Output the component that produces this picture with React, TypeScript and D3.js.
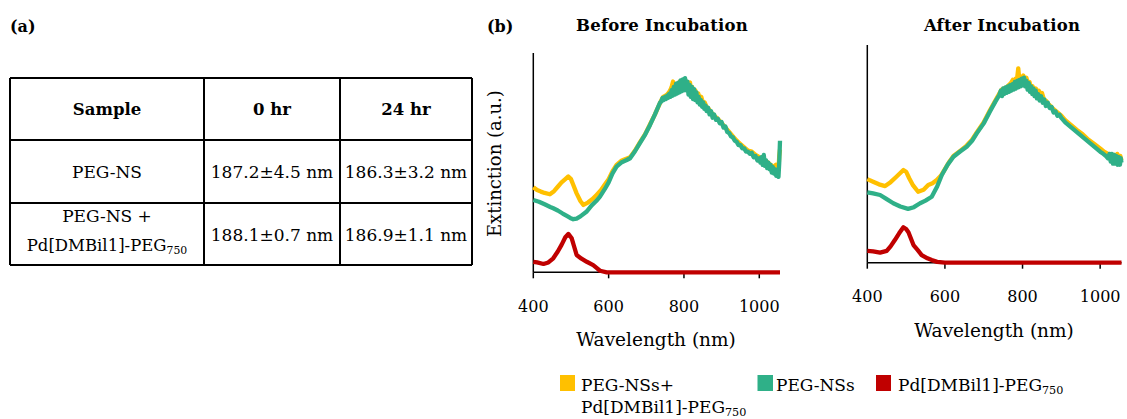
import React from 'react';
import * as d3 from 'd3';

// wavelength (nm), extinction (a.u., 1 = top of the y axis)
const beforeMix = [
  [400, 0.388], [410, 0.375], [420, 0.368], [430, 0.362], [444, 0.356], [455, 0.37], [465, 0.39], [475, 0.41],
  [485, 0.425], [493, 0.437], [500, 0.425], [506, 0.399], [515, 0.36], [525, 0.325], [533, 0.307], [545, 0.318],
  [558, 0.335], [568, 0.353], [580, 0.375], [590, 0.4], [600, 0.425], [610, 0.46], [621, 0.49], [635, 0.51],
  [657, 0.525], [670, 0.555], [683, 0.592], [697, 0.63], [710, 0.675], [723, 0.72], [736, 0.77], [740, 0.785],
  [745, 0.8], [750, 0.805], [755, 0.81], [760, 0.82], [765, 0.835], [768, 0.85], [771, 0.87], [774, 0.83],
  [777, 0.855], [780, 0.83], [783, 0.86], [786, 0.835], [789, 0.87], [792, 0.84], [795, 0.875], [798, 0.85],
  [801, 0.88], [804, 0.85], [807, 0.87], [810, 0.845], [813, 0.86], [816, 0.865], [819, 0.83], [822, 0.845],
  [826, 0.81], [830, 0.83], [834, 0.8], [838, 0.815], [842, 0.785], [846, 0.8], [850, 0.775], [855, 0.775],
  [860, 0.755], [866, 0.745], [872, 0.73], [880, 0.715], [890, 0.7], [900, 0.68], [910, 0.66], [920, 0.64],
  [930, 0.62], [940, 0.6], [950, 0.585], [960, 0.57], [970, 0.555], [980, 0.55], [990, 0.535], [1000, 0.525],
  [1010, 0.515], [1020, 0.505], [1030, 0.49], [1038, 0.48], [1044, 0.49], [1048, 0.465], [1051, 0.47],
  [1053, 0.53], [1055, 0.56]
];
const beforeNS = [
  [400, 0.33], [415, 0.322], [430, 0.31], [445, 0.298], [453, 0.292], [465, 0.282], [478, 0.268], [489, 0.257],
  [498, 0.248], [506, 0.242], [515, 0.245], [525, 0.255], [541, 0.276], [555, 0.305], [567, 0.325], [577, 0.345],
  [590, 0.38], [600, 0.41], [610, 0.45], [621, 0.482], [635, 0.502], [648, 0.512], [657, 0.52], [670, 0.552],
  [683, 0.589], [697, 0.628], [710, 0.672], [723, 0.72], [736, 0.772], [740, 0.78], [743, 0.795], [746, 0.785],
  [749, 0.8], [752, 0.79], [755, 0.805], [758, 0.795], [761, 0.815], [764, 0.8], [767, 0.83], [770, 0.805],
  [773, 0.845], [776, 0.81], [779, 0.86], [782, 0.815], [785, 0.865], [788, 0.82], [791, 0.875], [794, 0.825],
  [797, 0.88], [800, 0.83], [803, 0.885], [806, 0.83], [809, 0.87], [812, 0.81], [815, 0.855], [818, 0.8],
  [821, 0.845], [824, 0.79], [827, 0.835], [830, 0.785], [833, 0.82], [836, 0.775], [839, 0.8], [842, 0.765],
  [845, 0.785], [848, 0.755], [851, 0.775], [854, 0.745], [857, 0.76], [860, 0.735], [864, 0.75], [868, 0.72],
  [872, 0.735], [876, 0.705], [880, 0.72], [885, 0.695], [890, 0.7], [895, 0.68], [900, 0.685], [905, 0.66],
  [910, 0.665], [915, 0.64], [920, 0.635], [925, 0.62], [930, 0.615], [935, 0.6], [940, 0.595], [945, 0.58],
  [950, 0.58], [955, 0.565], [960, 0.565], [965, 0.55], [970, 0.55], [975, 0.54], [980, 0.545], [985, 0.525],
  [990, 0.53], [995, 0.51], [1000, 0.52], [1003, 0.5], [1006, 0.525], [1009, 0.49], [1012, 0.535], [1015, 0.485],
  [1018, 0.51], [1021, 0.475], [1024, 0.5], [1027, 0.47], [1030, 0.49], [1033, 0.455], [1036, 0.48], [1039, 0.45],
  [1042, 0.47], [1045, 0.44], [1048, 0.455], [1051, 0.435], [1053, 0.5], [1055, 0.6]
];
const beforePd = [
  [400, 0.048], [410, 0.045], [427, 0.038], [440, 0.045], [453, 0.064], [465, 0.095], [475, 0.125], [485, 0.16],
  [493, 0.175], [502, 0.155], [508, 0.12], [515, 0.079], [528, 0.062], [542, 0.048], [559, 0.033], [568, 0.02],
  [577, 0.007], [595, 0], [1055, 0]
];

const afterMix = [
  [400, 0.384], [415, 0.372], [430, 0.36], [446, 0.352], [460, 0.37], [475, 0.395], [485, 0.412], [493, 0.426],
  [500, 0.418], [508, 0.388], [518, 0.355], [531, 0.326], [545, 0.335], [557, 0.357], [568, 0.365], [579, 0.38],
  [590, 0.4], [600, 0.43], [610, 0.46], [622, 0.49], [640, 0.515], [656, 0.538], [670, 0.565], [682, 0.598],
  [700, 0.645], [716, 0.7], [730, 0.745], [746, 0.795], [752, 0.8], [758, 0.805], [764, 0.815], [770, 0.825],
  [775, 0.84], [779, 0.82], [782, 0.845], [785, 0.83], [789, 0.893], [792, 0.835], [795, 0.855], [798, 0.83],
  [802, 0.86], [806, 0.83], [810, 0.85], [814, 0.82], [818, 0.83], [822, 0.8], [826, 0.81], [830, 0.79],
  [834, 0.8], [838, 0.785], [842, 0.79], [846, 0.765], [850, 0.78], [855, 0.75], [860, 0.745], [866, 0.73],
  [872, 0.72], [880, 0.705], [890, 0.69], [900, 0.675], [910, 0.655], [920, 0.64], [930, 0.625], [940, 0.61],
  [955, 0.59], [970, 0.565], [985, 0.545], [1000, 0.525], [1010, 0.51], [1020, 0.5], [1030, 0.49], [1036, 0.495],
  [1040, 0.47], [1044, 0.5], [1048, 0.475], [1052, 0.49], [1055, 0.47]
];
const afterNS = [
  [400, 0.323], [415, 0.318], [433, 0.311], [450, 0.292], [467, 0.273], [485, 0.258], [505, 0.247], [520, 0.255],
  [536, 0.273], [550, 0.285], [566, 0.303], [580, 0.35], [592, 0.403], [607, 0.45], [622, 0.487], [640, 0.512],
  [656, 0.533], [670, 0.56], [682, 0.594], [700, 0.64], [716, 0.694], [730, 0.74], [740, 0.77], [744, 0.79],
  [747, 0.765], [750, 0.8], [753, 0.775], [756, 0.805], [759, 0.78], [762, 0.81], [765, 0.785], [768, 0.815],
  [771, 0.79], [774, 0.82], [777, 0.795], [780, 0.83], [783, 0.8], [786, 0.835], [789, 0.805], [792, 0.84],
  [795, 0.81], [798, 0.845], [801, 0.815], [804, 0.85], [807, 0.81], [810, 0.835], [813, 0.795], [816, 0.825],
  [819, 0.785], [822, 0.81], [825, 0.775], [828, 0.8], [831, 0.765], [834, 0.79], [837, 0.755], [840, 0.775],
  [844, 0.745], [848, 0.765], [852, 0.735], [856, 0.75], [860, 0.72], [865, 0.735], [870, 0.71], [875, 0.715],
  [880, 0.69], [885, 0.695], [890, 0.675], [895, 0.68], [900, 0.665], [910, 0.645], [920, 0.63], [930, 0.615],
  [940, 0.6], [950, 0.585], [960, 0.57], [970, 0.555], [980, 0.54], [990, 0.525], [1000, 0.51], [1008, 0.5],
  [1015, 0.49], [1020, 0.48], [1024, 0.5], [1027, 0.465], [1030, 0.5], [1033, 0.455], [1036, 0.495], [1039, 0.455],
  [1042, 0.49], [1045, 0.45], [1048, 0.485], [1051, 0.45], [1053, 0.48], [1055, 0.46]
];
const afterPd = [
  [400, 0.054], [415, 0.052], [433, 0.046], [450, 0.054], [460, 0.075], [471, 0.104], [482, 0.135], [493, 0.163],
  [500, 0.155], [506, 0.14], [519, 0.081], [530, 0.058], [540, 0.035], [555, 0.02], [566, 0.012], [580, 0.004],
  [600, 0], [1055, 0]
];

const xTicks = [400, 600, 800, 1000];
const tableHeader = ['Sample', '0 hr', '24 hr'];
const tableRow1 = ['PEG-NS', '187.2±4.5 nm', '186.3±3.2 nm'];
const tableRow2 = ['PEG-NS +', '188.1±0.7 nm', '186.9±1.1 nm'];

const COLORS = { mix: '#FFC000', ns: '#2FB088', pd: '#C00000' };
const FONT = '"DejaVu Serif", serif';

const Sub750 = ({ size }) => (
  <>
    Pd[DMBil1]-PEG
    <tspan fontSize={size * 0.66} dy={3}>750</tspan>
  </>
);

const Panel = ({ title, titleX, x0, x1, yTop, yBase, series, tickY, labelY, labelX, yLabel }) => {
  const x = d3.scaleLinear().domain([400, 1055]).range([x0, x1]);
  const y = d3.scaleLinear().domain([0, 1]).range([yBase, yTop]);
  const line = d3.line().x(d => x(d[0])).y(d => y(d[1]));
  return (
    <g>
      <text x={titleX} y={31} textAnchor="middle" fontWeight="bold" fontSize={16.5} fontFamily={FONT}
        letterSpacing={0.2}>{title}</text>
      <line x1={x0} x2={x0} y1={yTop} y2={yBase} stroke="#000" strokeWidth={1.5} />
      <line x1={x0} x2={x1} y1={yBase} y2={yBase} stroke="#000" strokeWidth={1.5} />
      {xTicks.map(t => (
        <g key={t}>
          <line x1={x(t)} x2={x(t)} y1={yBase} y2={yBase + 6} stroke="#000" strokeWidth={1.5} />
          <text x={x(t)} y={tickY} textAnchor="middle" fontSize={16} fontFamily={FONT}>{t}</text>
        </g>
      ))}
      {series.map(s => (
        <path key={s.key} d={line(s.data)} fill="none" stroke={s.color} strokeWidth={4.3}
          strokeLinejoin="round" strokeLinecap="butt" />
      ))}
      <text x={labelX} y={labelY} textAnchor="middle" fontSize={18.5} fontFamily={FONT}>Wavelength (nm)</text>
      {yLabel && (
        <text transform={`translate(501,${(yTop + yBase) / 2 + 1}) rotate(-90)`} textAnchor="middle"
          fontSize={18} fontFamily={FONT}>Extinction  (a.u.)</text>
      )}
    </g>
  );
};

const Table = () => {
  const cols = [10, 204, 340, 472];
  const rows = [78, 140, 203, 265];
  const cx = i => (cols[i] + cols[i + 1]) / 2;
  return (
    <g fontFamily={FONT} fontSize={17}>
      <text x={10} y={32} fontWeight="bold" fontSize={16}>(a)</text>
      {rows.map(r => <line key={'r' + r} x1={cols[0]} x2={cols[3]} y1={r} y2={r} stroke="#000" strokeWidth={2} />)}
      {cols.map(c => <line key={'c' + c} x1={c} x2={c} y1={rows[0]} y2={rows[3]} stroke="#000" strokeWidth={2} />)}
      {tableHeader.map((t, i) => (
        <text key={t} x={cx(i)} y={115} textAnchor="middle" fontWeight="bold" fontSize={16.5}>{t}</text>
      ))}
      {tableRow1.map((t, i) => (
        <text key={t} x={cx(i)} y={178} textAnchor="middle">{t}</text>
      ))}
      {tableRow2.map((t, i) => (
        <text key={t} x={cx(i)} y={i === 0 ? 222 : 240.5} textAnchor="middle">{t}</text>
      ))}
      <text x={cx(0)} y={251} textAnchor="middle" fontSize={16.5}><Sub750 size={16.5} /></text>
    </g>
  );
};

export default function App() {
  const left = [
    { key: 'mix', data: beforeMix, color: COLORS.mix },
    { key: 'ns', data: beforeNS, color: COLORS.ns },
    { key: 'pd', data: beforePd, color: COLORS.pd }
  ];
  const right = [
    { key: 'mix', data: afterMix, color: COLORS.mix },
    { key: 'ns', data: afterNS, color: COLORS.ns },
    { key: 'pd', data: afterPd, color: COLORS.pd }
  ];
  return (
    <svg width={1127} height={419} style={{ position: 'absolute', left: 0, top: 0, background: '#fff' }}>
      <Table />
      <text x={487} y={32} fontWeight="bold" fontSize={16} fontFamily={FONT}>(b)</text>
      <Panel title="Before Incubation" titleX={662} x0={533.3} x1={780} yTop={53} yBase={272.3}
        series={left} tickY={312} labelY={346} labelX={656} yLabel />
      <Panel title="After Incubation" titleX={1002} x0={867.3} x1={1121.5} yTop={45} yBase={262.7}
        series={right} tickY={302} labelY={337} labelX={994} />
      <g fontFamily={FONT} fontSize={17}>
        <rect x={560} y={375} width={15} height={16} fill={COLORS.mix} />
        <text x={581} y={390.5}>PEG-NSs+</text>
        <text x={581} y={413}><Sub750 size={17} /></text>
        <rect x={757.5} y={375} width={15.5} height={16} fill={COLORS.ns} />
        <text x={776} y={390.5}>PEG-NSs</text>
        <rect x={876} y={375} width={15} height={16} fill={COLORS.pd} />
        <text x={898} y={390.5}><Sub750 size={17} /></text>
      </g>
    </svg>
  );
}
